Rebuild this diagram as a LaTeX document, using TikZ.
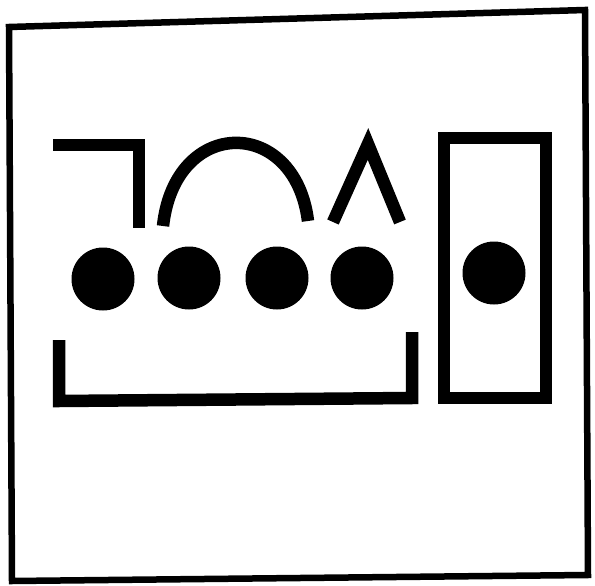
\documentclass[tikz,border=0pt]{standalone}
\begin{document}
\begin{tikzpicture}[x=1pt,y=-1pt,
  stroke/.style={line width=12.5pt,line cap=butt,line join=miter,black},
  frame/.style={line width=6.5pt,line join=miter,black},
  dot/.style={circle,fill=black,draw=none,minimum size=63pt,inner sep=0pt}]
\useasboundingbox (0,0) rectangle (595,586);
% outer frame
\coordinate (tl) at (9,27);
\coordinate (tr) at (585,10);
\coordinate (br) at (588,575);
\coordinate (bl) at (12,581);
\draw[frame] (tl) -- (tr) -- (br) -- (bl) -- cycle;
% top-left hook
\coordinate (h1) at (53,145);
\coordinate (h2) at (139,145);
\coordinate (h3) at (139,228);
\draw[stroke] (h1) -- (h2) -- (h3);
% arch
\coordinate (a1) at (163,226);
\coordinate (a2) at (308,221);
\draw[stroke] (a1) .. controls (175,116) and (295,116) .. (a2);
% lambda
\coordinate (l1) at (333,222);
\coordinate (l2) at (368,144);
\coordinate (l3) at (400,222);
\draw[stroke] (l1) -- (l2) -- (l3);
% dots
\node[dot] (c1) at (103,279) {};
\node[dot] (c2) at (189,278) {};
\node[dot] (c3) at (277,278) {};
\node[dot] (c4) at (362,278) {};
\node[dot] (c5) at (494,273) {};
% bottom U
\coordinate (u1) at (59,340);
\coordinate (u2) at (59,401);
\coordinate (u3) at (412,398);
\coordinate (u4) at (412,332);
\draw[stroke] (u1) -- (u2) -- (u3) -- (u4);
% right rectangle
\coordinate (r1) at (444,138);
\coordinate (r2) at (546,138);
\coordinate (r3) at (546,398);
\coordinate (r4) at (444,398);
\draw[stroke] (r1) -- (r2) -- (r3) -- (r4) -- cycle;
\end{tikzpicture}
\end{document}
